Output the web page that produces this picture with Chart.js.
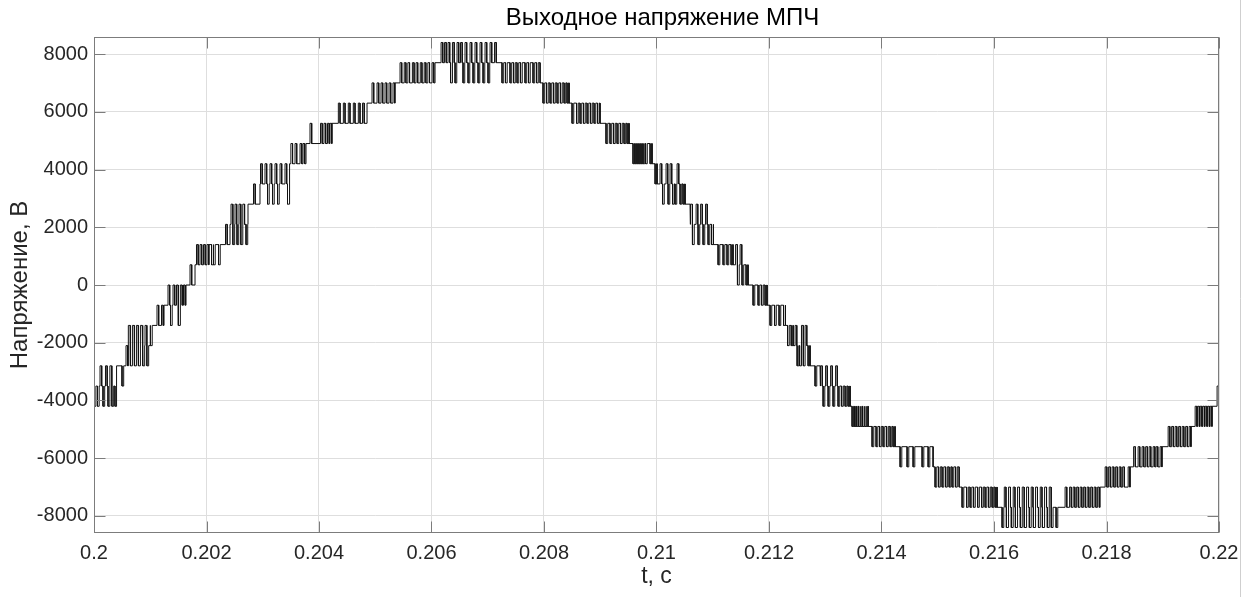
<!DOCTYPE html>
<html>
<head>
<meta charset="utf-8">
<script src="https://cdn.jsdelivr.net/npm/chart.js@4.4.1/dist/chart.umd.min.js"></script>
<style>
  html, body { margin: 0; padding: 0; background: #fff; }
</style>
</head>
<body>
<canvas id="chart" width="1254" height="597"></canvas>
<script>
// record starts at 0.2 s, all switching times below are in µs after that
const T0 = 0.2;
const T_END_US = 20000;
const PULSE_US = 30;     // width of one PWM pulse
const STEP_V = 700;      // voltage between neighbouring converter levels

const chartTitle = 'Выходное напряжение МПЧ';
const xTicks = [0.2, 0.202, 0.204, 0.206, 0.208, 0.21, 0.212, 0.214, 0.216, 0.218, 0.22];
const yTicks = [-8000, -6000, -4000, -2000, 0, 2000, 4000, 6000, 8000];

// each band: time the base level starts, the base level, and the pulses
// that jump one level up or one level down from it
const bandStartUs = [0, 400, 605, 996, 1245, 1636, 1796, 2045, 2418, 2738, 2951, 3480, 3769, 4232, 4854,
  5352, 6063, 7930, 8446, 8997, 9512, 9921, 10010, 10508, 10597, 11015, 11361, 11628, 11966, 12295,
  12430, 12730, 12908, 13442, 13762, 14242, 14917, 15380, 16055, 17887, 18420, 18989, 19505, 19878];

const bandLevelV = [-3500, -2800, -2100, -1400, -700, 0, 700, 1400, 2100, 2800, 3500, 4200, 4900, 5600, 6300,
  7000, 7700, 7000, 6300, 5600, 4900, 4200, 3500, 2800, 2100, 1400, 700, 0, -700, -1400,
  -2100, -2800, -3500, -4200, -4900, -5600, -6300, -7000, -7700, -7000, -6300, -5600, -4900, -4200];

const pulseUpUs = [
  [107, 204, 284],
  [569],
  [613, 685, 756, 827, 907],
  [1120, 1200],
  [1316, 1405, 1467, 1538, 1591],
  [1707],
  [1822, 1885, 1947, 2009],
  [2338],
  [2436, 2507, 2578, 2647],
  [2836],
  [2960, 3040, 3129, 3218, 3307, 3396],
  [3500, 3574, 3663, 3716],
  [3840, 4027, 4089, 4151, 4196],
  [4344, 4433, 4521, 4610, 4699, 4774],
  [4943, 5032, 5103, 5174, 5245, 5316],
  [5441, 5515, 5580, 5660, 5725, 5800, 5870, 5935, 6010],
  [6170, 6232, 6294, 6374, 6454, 6516, 6596, 6685, 6774, 6863, 6952, 7041, 7121],
  [], [], [], [], [],
  [10063, 10170, 10241, 10366],
  [],
  [10606, 10704, 10784, 10872],
  [],
  [11406, 11486],
  [], [], [],
  [12464, 12579, 12642],
  [],
  [12917, 13006, 13095, 13184],
  [], [], [], [], [],
  [16183, 16263, 16343, 16423, 16504, 16584, 16663, 16743, 16823, 16904, 16984,
   17264, 17344, 17407, 17469, 17531, 17593, 17656, 17718, 17780, 17842],
  [17976, 18038, 18100, 18162, 18225, 18287, 18385],
  [18482, 18562, 18633, 18696, 18758, 18829, 18882, 18953],
  [19096, 19158, 19220, 19282, 19345, 19407, 19469],
  [19576, 19620, 19665, 19710, 19754, 19798, 19843],
  [19966]
];

const pulseDownUs = [
  [4, 62, 160, 249, 320, 373],
  [498],
  [649, 720, 791, 871, 942],
  [1005],
  [1360, 1500],
  [], [],
  [2089, 2125, 2214],
  [2471, 2543, 2612, 2703],
  [],
  [3085, 3174, 3263, 3440],
  [], [], [], [], [],
  [6339, 6419, 6561, 6650, 6739, 6828, 6917, 7005,
   7254, 7316, 7396, 7459, 7521, 7583, 7663, 7725, 7805, 7868],
  [7983, 8045, 8108, 8170, 8232, 8294, 8357, 8410],
  [8499, 8579, 8641, 8703, 8766, 8828, 8890, 8952],
  [9103, 9174, 9237, 9299, 9361, 9423, 9477],
  [9583, 9619, 9655, 9690, 9726, 9761, 9806, 9886],
  [9975],
  [10108, 10206, 10286, 10330, 10419, 10472],
  [],
  [10641, 10739, 10828, 10917, 10979],
  [11095, 11184, 11254, 11326],
  [11441, 11521, 11593],
  [11717, 11806, 11868, 11930],
  [12019, 12099, 12179, 12259],
  [12330, 12395],
  [12500, 12544, 12611, 12695],
  [12819],
  [12962, 13051, 13139, 13228, 13291, 13353, 13406],
  [13477, 13515, 13550, 13590, 13622, 13660, 13695, 13728],
  [13833, 13904, 13966, 14028, 14091, 14153, 14206],
  [14331, 14455, 14562, 14722, 14829],
  [14953, 15015, 15077, 15140, 15202, 15255, 15317],
  [15433, 15513, 15575, 15637, 15709, 15780, 15842, 15904, 15966, 16020],
  [16144, 16220, 16308, 16380, 16468, 16540, 16628, 16700, 16790, 16860, 16948, 17020, 17104],
  [], [], [], [], []
];

// turn the bands into a step line (two points per switching instant)
const points = [];
let level = null;
function jump(us, v) {
  const t = T0 + us / 1e6;
  if (level !== null) points.push({ x: t, y: level });
  points.push({ x: t, y: v });
  level = v;
}
bandStartUs.forEach((start, i) => {
  const base = bandLevelV[i];
  jump(start, base);
  const pulses = pulseUpUs[i].map(u => [u, base + STEP_V])
    .concat(pulseDownUs[i].map(u => [u, base - STEP_V]))
    .sort((a, b) => a[0] - b[0]);
  pulses.forEach(([u, v]) => {
    jump(u, v);
    jump(u + PULSE_US, base);
  });
});
points.push({ x: T0 + T_END_US / 1e6, y: level });

const FONT = "'Liberation Sans', Arial, Helvetica, sans-serif";
const TICK_LEN = 11;

// matlab-like box with inward ticks on all four sides, plus the title
const boxPlugin = {
  id: 'box',
  afterDraw(chart) {
    const { ctx, chartArea: a, scales } = chart;
    const l = Math.round(a.left) + 0.5, r = Math.round(a.right) - 0.5;
    const t = Math.round(a.top) + 0.5, b = Math.round(a.bottom) - 0.5;
    ctx.save();
    ctx.strokeStyle = '#7c7c7c';
    ctx.lineWidth = 1;
    ctx.strokeRect(l, t, r - l, b - t);
    ctx.beginPath();
    xTicks.forEach(v => {
      const px = Math.round(scales.x.getPixelForValue(v)) + 0.5;
      ctx.moveTo(px, b); ctx.lineTo(px, b - TICK_LEN);
      ctx.moveTo(px, t); ctx.lineTo(px, t + TICK_LEN);
    });
    yTicks.forEach(v => {
      const py = Math.round(scales.y.getPixelForValue(v)) + 0.5;
      ctx.moveTo(l, py); ctx.lineTo(l + TICK_LEN, py);
      ctx.moveTo(r, py); ctx.lineTo(r - TICK_LEN, py);
    });
    ctx.stroke();

    // thin figure edge on the right
    ctx.strokeStyle = '#cfcfcf';
    ctx.beginPath();
    ctx.moveTo(1240.5, 0); ctx.lineTo(1240.5, chart.height);
    ctx.stroke();

    ctx.fillStyle = '#000';
    ctx.font = '24px ' + FONT;
    ctx.textAlign = 'center';
    ctx.textBaseline = 'middle';
    ctx.fillText(chartTitle, (a.left + a.right) / 2 + 6, 18);
    ctx.restore();
  }
};

new Chart(document.getElementById('chart'), {
  type: 'line',
  data: {
    datasets: [{
      data: points,
      borderColor: '#111',
      borderWidth: 1,
      pointRadius: 0,
      tension: 0,
      fill: false
    }]
  },
  options: {
    responsive: false,
    animation: false,
    layout: { padding: { left: 0, right: 35, top: 37, bottom: 0 } },
    plugins: {
      legend: { display: false },
      tooltip: { enabled: false },
      title: { display: false }
    },
    scales: {
      x: {
        type: 'linear',
        min: 0.2,
        max: 0.22,
        afterBuildTicks: s => { s.ticks = xTicks.map(v => ({ value: v })); },
        afterFit: s => { s.height = 64; },
        ticks: {
          color: '#262626',
          font: { family: FONT, size: 20 },
          padding: 8,
          maxRotation: 0,
          autoSkip: false,
          callback: v => String(Number(v.toFixed(3)))
        },
        grid: { color: '#dedede', lineWidth: 1, drawTicks: false },
        border: { display: false },
        title: {
          display: true,
          text: 't, с',
          color: '#262626',
          font: { family: FONT, size: 23 },
          padding: { top: 0, bottom: 7 }
        }
      },
      y: {
        type: 'linear',
        min: -8590,
        max: 8590,
        afterBuildTicks: s => { s.ticks = yTicks.map(v => ({ value: v })); },
        afterFit: s => { s.width = 94; },
        ticks: {
          color: '#262626',
          font: { family: FONT, size: 20 },
          padding: 6,
          autoSkip: false,
          callback: v => String(v)
        },
        grid: { color: '#dedede', lineWidth: 1, drawTicks: false },
        border: { display: false },
        title: {
          display: true,
          text: 'Напряжение, В',
          color: '#262626',
          font: { family: FONT, size: 24 },
          padding: { top: 6, bottom: 0 }
        }
      }
    }
  },
  plugins: [boxPlugin]
});
</script>
</body>
</html>
